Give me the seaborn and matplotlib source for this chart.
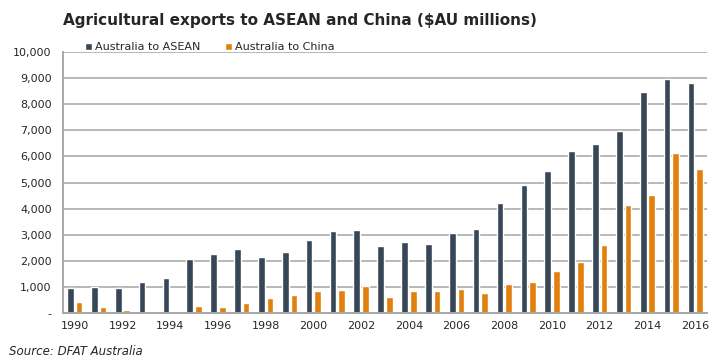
import numpy as np
import pandas as pd
import matplotlib
matplotlib.use("Agg")
import matplotlib.pyplot as plt
import seaborn as sns
from matplotlib.ticker import FuncFormatter, FixedLocator

# data ($AU millions)
years = list(range(1990, 2017))
asean = [950, 1000, 950, 1200, 1330, 2080, 2250, 2470, 2150, 2320,
         2800, 3150, 3200, 2550, 2720, 2650, 3080, 3220, 4220, 4920,
         5450, 6220, 6470, 6980, 8470, 8950, 8800]
china = [430, 250, 130, 90, 60, 280, 250, 380, 580, 710,
         830, 890, 1030, 610, 850, 830, 920, 750, 1130, 1180,
         1600, 1950, 2600, 4150, 4530, 6150, 5500]
series = ["Australia to ASEAN", "Australia to China"]
colours = ["#384757", "#e1800c"]

df = pd.DataFrame({
    "year": [str(y) for y in years] * 2,
    "value": asean + china,
    "series": [series[0]] * len(years) + [series[1]] * len(years),
})

sns.set_style("white")
plt.rcParams["font.family"] = ["DejaVu Sans"]

fig = plt.figure(figsize=(7.23, 3.64), dpi=100)
ax = fig.add_axes([0.087, 0.14, 0.891, 0.717])

sns.barplot(data=df, x="year", y="value", hue="series", palette=colours,
            width=0.72, gap=0.22, ax=ax, saturation=1, legend=True)

ax.set_ylim(0, 10000)
ax.set_xlim(-0.5, len(years) - 0.5)
ax.set_yticks(range(0, 10001, 1000))
ax.yaxis.set_major_formatter(FuncFormatter(lambda v, p: "-" if v == 0 else f"{int(v):,}"))
ax.grid(axis="y", color="#b8b8b8", linewidth=1.4)
ax.set_axisbelow(True)

# labels every other year, tick marks between categories
ax.set_xticks(range(0, len(years), 2))
ax.set_xticklabels([str(y) for y in years[::2]])
ax.xaxis.set_minor_locator(FixedLocator(np.arange(-0.5, len(years), 1)))
ax.tick_params(axis="x", which="major", length=0, labelsize=8, pad=6)
ax.tick_params(axis="x", which="minor", length=4, color="#8c8c8c", width=1)
ax.tick_params(axis="y", length=4, color="#a0a0a0", labelsize=8, pad=4)

for s in ["top", "right"]:
    ax.spines[s].set_visible(False)
for s in ["left", "bottom"]:
    ax.spines[s].set_color("#a8a8a8")
    ax.spines[s].set_linewidth(1.4)

ax.set_xlabel("")
ax.set_ylabel("")

ax.legend(loc="lower left", bbox_to_anchor=(0.035, 1.0), ncol=2, frameon=False,
          fontsize=8, handlelength=0.6, handleheight=0.6, handletextpad=0.3,
          columnspacing=2.2, borderaxespad=0, borderpad=0)

fig.text(0.087, 0.945, "Agricultural exports to ASEAN and China ($AU millions)",
         fontsize=11, fontweight="bold", ha="left", va="center")
fig.text(0.012, 0.035, "Source: DFAT Australia", fontsize=8.5, style="italic",
         ha="left", va="center")

fig.savefig("out.png", dpi=100)
